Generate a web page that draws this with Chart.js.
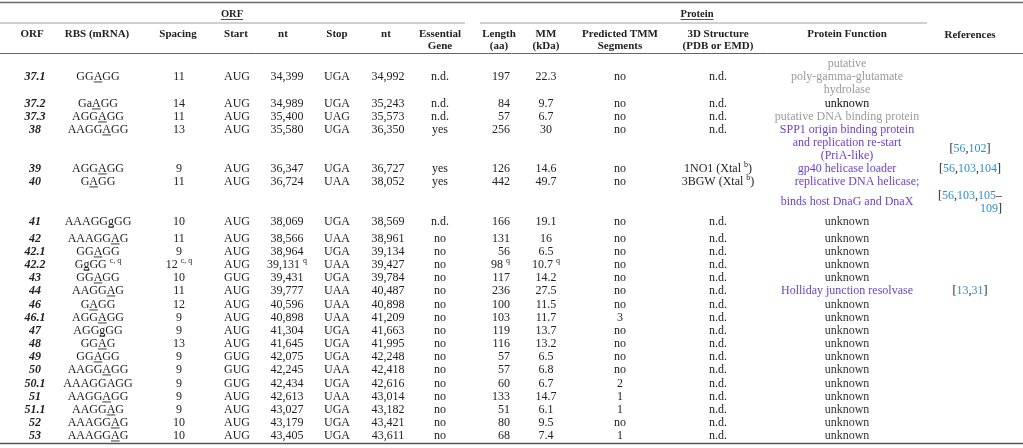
<!DOCTYPE html>
<html>
<head>
<meta charset="utf-8">
<script src="https://cdn.jsdelivr.net/npm/chart.js"></script>
<style>
  body { margin: 0; background: #fff; }
  #box { width: 1023px; height: 448px; }
</style>
</head>
<body>
<div id="box"><canvas id="tabela"></canvas></div>
<script>
// dados da tabela (ORF / Protein)
// "_" = proxima letra sublinhada, "^...^" = sobrescrito
const orf = ['37.1', '37.2', '37.3', '38', '39', '40', '41', '42', '42.1', '42.2', '43', '44',
  '46', '46.1', '47', '48', '49', '50', '50.1', '51', '51.1', '52', '53'];
const rbs = ['GG_AGG', 'Ga_AGG', 'AGG_AGG', 'AAGG_AGG', 'AGG_AGG', 'G_AGG', 'AAAGG_gGG', 'AAAGG_AG',
  'GG_AGG', 'G_gGG ^c, q', 'GG_AGG', 'AAGG_AG', 'G_AGG', 'AGG_AGG', 'AGG_gGG', 'GG_AG', 'GG_AGG',
  'AAGG_AGG', 'AAAGGAGG', 'AAGG_AGG', 'AAGG_AG', 'AAAGG_AG', 'AAAGG_AG'];
const spacing = ['11', '14', '11', '13', '9', '11', '10', '11', '9', '12 ^c, q', '10', '11',
  '12', '9', '9', '13', '9', '9', '9', '9', '9', '10', '10'];
const startCodon = ['AUG', 'AUG', 'AUG', 'AUG', 'AUG', 'AUG', 'AUG', 'AUG', 'AUG', 'AUG', 'GUG', 'AUG',
  'AUG', 'AUG', 'AUG', 'AUG', 'GUG', 'GUG', 'GUG', 'AUG', 'AUG', 'AUG', 'AUG'];
const startNt = ['34,399', '34,989', '35,400', '35,580', '36,347', '36,724', '38,069', '38,566',
  '38,964', '39,131 ^q', '39,431', '39,777', '40,596', '40,898', '41,304', '41,645', '42,075',
  '42,245', '42,434', '42,613', '43,027', '43,179', '43,405'];
const stopCodon = ['UGA', 'UGA', 'UAG', 'UGA', 'UGA', 'UAA', 'UGA', 'UAA', 'UGA', 'UAA', 'UGA', 'UAA',
  'UAA', 'UAA', 'UGA', 'UGA', 'UGA', 'UAA', 'UGA', 'UAA', 'UGA', 'UGA', 'UGA'];
const stopNt = ['34,992', '35,243', '35,573', '36,350', '36,727', '38,052', '38,569', '38,961',
  '39,134', '39,427', '39,784', '40,487', '40,898', '41,209', '41,663', '41,995', '42,248',
  '42,418', '42,616', '43,014', '43,182', '43,421', '43,611'];
const essential = ['n.d.', 'n.d.', 'n.d.', 'yes', 'yes', 'yes', 'n.d.', 'no', 'no', 'no', 'no', 'no',
  'no', 'no', 'no', 'no', 'no', 'no', 'no', 'no', 'no', 'no', 'no'];
const lengthAa = ['197', '84', '57', '256', '126', '442', '166', '131', '56', '98 ^q', '117', '236',
  '100', '103', '119', '116', '57', '57', '60', '133', '51', '80', '68'];
const massKda = ['22.3', '9.7', '6.7', '30', '14.6', '49.7', '19.1', '16', '6.5', '10.7 ^q', '14.2', '27.5',
  '11.5', '11.7', '13.7', '13.2', '6.5', '6.8', '6.7', '14.7', '6.1', '9.5', '7.4'];
const tmm = ['no', 'no', 'no', 'no', 'no', 'no', 'no', 'no', 'no', 'no', 'no', 'no',
  'no', '3', 'no', 'no', 'no', 'no', '2', '1', '1', 'no', '1'];
const structure = ['n.d.', 'n.d.', 'n.d.', 'n.d.', '1NO1 (Xtal ^b^)', '3BGW (Xtal ^b^)', 'n.d.', 'n.d.',
  'n.d.', 'n.d.', 'n.d.', 'n.d.', 'n.d.', 'n.d.', 'n.d.', 'n.d.', 'n.d.', 'n.d.', 'n.d.', 'n.d.',
  'n.d.', 'n.d.', 'n.d.'];
const proteinFunction = [
  ['putative', 'poly-gamma-glutamate', 'hydrolase'],
  ['unknown'],
  ['putative DNA binding protein'],
  ['SPP1 origin binding protein', 'and replication re-start', '(PriA-like)'],
  ['gp40 helicase loader'],
  ['replicative DNA helicase;', 'binds host DnaG and DnaX'],
  ['unknown'], ['unknown'], ['unknown'], ['unknown'], ['unknown'],
  ['Holliday junction resolvase'],
  ['unknown'], ['unknown'], ['unknown'], ['unknown'], ['unknown'], ['unknown'],
  ['unknown'], ['unknown'], ['unknown'], ['unknown'], ['unknown']
];
// putative / known / unknown
const functionKind = ['putative', 'unknown0', 'putative', 'known', 'known', 'known', 'unknown', 'unknown',
  'unknown', 'unknown', 'unknown', 'known', 'unknown', 'unknown', 'unknown', 'unknown', 'unknown',
  'unknown', 'unknown', 'unknown', 'unknown', 'unknown', 'unknown'];
const references = [[], [], [], ['[56,102]'], ['[56,103,104]'], ['[56,103,105–', '109]'], [], [], [], [], [], ['[13,31]'],
  [], [], [], [], [], [], [], [], [], [], []];

const headers = ['ORF', 'RBS (mRNA)', 'Spacing', 'Start', 'nt', 'Stop', 'nt', 'Essential|Gene', 'Length|(aa)',
  'MM|(kDa)', 'Predicted TMM|Segments', '3D Structure|(PDB or EMD)', 'Protein Function', 'References'];

// layout (pixels)
const headerX = [32, 97, 178, 236, 283, 337, 386, 440, 499, 546, 620, 718, 847, 970];
const colX = [35, 98, 179, 237, 287, 337, 388, 440, 510, 546, 620, 718, 847, 970];
const rowY = [76, 103, 116, 129, 168, 181, 221, 238, 251, 264, 277, 290, 304, 317, 330, 343, 356, 369,
  383, 396, 409, 422, 435];
const funcOffsets = { 0: [-13, 0, 13], 3: [0, 13, 26], 5: [0, 20] };
const funcShiftX = { 5: [10, 0] };
const refOffsets = { 3: [19], 5: [14, 27] };

const SERIF = "'Liberation Serif', 'Times New Roman', serif";
const corTexto = '#222';
const corFuncao = { putative: '#9b9b9b', known: '#6c43c6', unknown: '#333', unknown0: '#111' };
const corRef = '#2f8fcb';

function parseRich(str) {
  const runs = [];
  let sup = false, under = false;
  for (const c of str) {
    if (c === '_') { under = true; continue; }
    if (c === '^') { sup = !sup; continue; }
    const last = runs[runs.length - 1];
    if (last && !under && !last.under && last.sup === sup) last.t += c;
    else runs.push({ t: c, sup, under });
    // apenas a letra marcada fica sublinhada
    if (under) { under = false; runs.push({ t: '', sup, under: false }); }
  }
  return runs.filter(r => r.t.length);
}

function drawRich(ctx, str, x, y, opt) {
  const size = opt.size || 12;
  const base = (opt.weight || '') + ' ' + size + 'px ' + SERIF;
  const supFont = Math.round(size * 0.68) + 'px ' + SERIF;
  const runs = parseRich(str);
  let total = 0;
  runs.forEach(r => {
    ctx.font = r.sup ? supFont : base;
    r.w = ctx.measureText(r.t).width;
    total += r.w;
  });
  let left = x - total / 2;
  if (opt.align === 'right') left = x - total;
  if (opt.align === 'left') left = x;
  const baseline = y + size * 0.33;
  runs.forEach(r => {
    ctx.font = r.sup ? supFont : base;
    if (opt.colorFn) {
      // cores por caractere (referencias)
      let cx = left;
      for (const c of r.t) {
        ctx.fillStyle = opt.colorFn(c);
        ctx.fillText(c, cx, r.sup ? baseline - size * 0.38 : baseline);
        cx += ctx.measureText(c).width;
      }
    } else {
      ctx.fillStyle = opt.color || corTexto;
      ctx.fillText(r.t, left, r.sup ? baseline - size * 0.38 : baseline);
    }
    if (r.under) {
      ctx.strokeStyle = opt.color || corTexto;
      ctx.lineWidth = 0.9;
      ctx.beginPath();
      ctx.moveTo(left, baseline + 2);
      ctx.lineTo(left + r.w, baseline + 2);
      ctx.stroke();
    }
    left += r.w;
  });
  return { left: x - total / 2, right: x + total / 2, width: total };
}

const tablePlugin = {
  id: 'tablePlugin',
  afterDraw(chart) {
    const ctx = chart.ctx;
    const X = v => chart.scales.x.getPixelForValue(v);
    const Y = v => chart.scales.y.getPixelForValue(v);
    ctx.save();
    ctx.textAlign = 'left';
    ctx.textBaseline = 'alphabetic';

    const hline = (x0, x1, y, w, color) => {
      ctx.strokeStyle = color;
      ctx.lineWidth = w;
      ctx.beginPath();
      ctx.moveTo(X(x0), Y(y));
      ctx.lineTo(X(x1), Y(y));
      ctx.stroke();
    };
    hline(0, 1023, 2.5, 1.6, '#6a6a6a');
    hline(0, 465, 23, 0.8, '#8a8a8a');
    hline(480, 927, 23, 0.8, '#8a8a8a');
    hline(0, 1023, 53.5, 1, '#666');
    hline(0, 1023, 443.5, 1.6, '#555');

    // grupos
    [['ORF', 232], ['Protein', 697]].forEach(([t, x]) => {
      const m = drawRich(ctx, t, X(x), Y(14), { size: 10.5, weight: 'bold' });
      ctx.strokeStyle = corTexto;
      ctx.lineWidth = 0.8;
      ctx.beginPath();
      ctx.moveTo(m.left, Y(14) + 5.5);
      ctx.lineTo(m.right, Y(14) + 5.5);
      ctx.stroke();
    });

    headers.forEach((h, i) => {
      const lines = h.split('|');
      if (h === 'References') {
        drawRich(ctx, h, X(headerX[i]), Y(34), { size: 11, weight: 'bold' });
        return;
      }
      lines.forEach((l, k) => drawRich(ctx, l, X(headerX[i]), Y(33 + k * 12), { size: 11, weight: 'bold' }));
    });

    const cols = [rbs, spacing, startCodon, startNt, stopCodon, stopNt, essential, lengthAa, massKda, tmm, structure];
    orf.forEach((o, r) => {
      const y = Y(rowY[r]);
      drawRich(ctx, o, X(colX[0]), y, { weight: 'italic bold' });
      cols.forEach((col, c) => {
        drawRich(ctx, col[r], X(colX[c + 1]), y, { align: c === 7 ? 'right' : 'center' });
      });
      const offs = funcOffsets[r] || [0];
      const shifts = funcShiftX[r] || [];
      proteinFunction[r].forEach((line, k) => {
        drawRich(ctx, line, X(colX[12] + (shifts[k] || 0)), Y(rowY[r] + offs[k]), { color: corFuncao[functionKind[r]] });
      });
      const roffs = refOffsets[r] || [0];
      let right = null;
      references[r].forEach((line, k) => {
        const colorFn = ch => /[0-9]/.test(ch) ? corRef : corTexto;
        if (k === 0) {
          right = drawRich(ctx, line, X(colX[13]), Y(rowY[r] + roffs[k]), { colorFn }).right;
        } else {
          drawRich(ctx, line, right, Y(rowY[r] + roffs[k]), { colorFn, align: 'right' });
        }
      });
    });
    ctx.restore();
  }
};

const config_tabela = {
  type: 'scatter',
  data: { datasets: [] },
  options: {
    responsive: true,
    maintainAspectRatio: false,
    animation: false,
    layout: { padding: 0 },
    plugins: { legend: { display: false }, tooltip: { enabled: false } },
    scales: {
      x: { type: 'linear', min: 0, max: 1023, display: false },
      y: { type: 'linear', min: 0, max: 448, reverse: true, display: false }
    }
  },
  plugins: [tablePlugin]
};

const tabela = new Chart(document.getElementById('tabela'), config_tabela);
</script>
</body>
</html>
